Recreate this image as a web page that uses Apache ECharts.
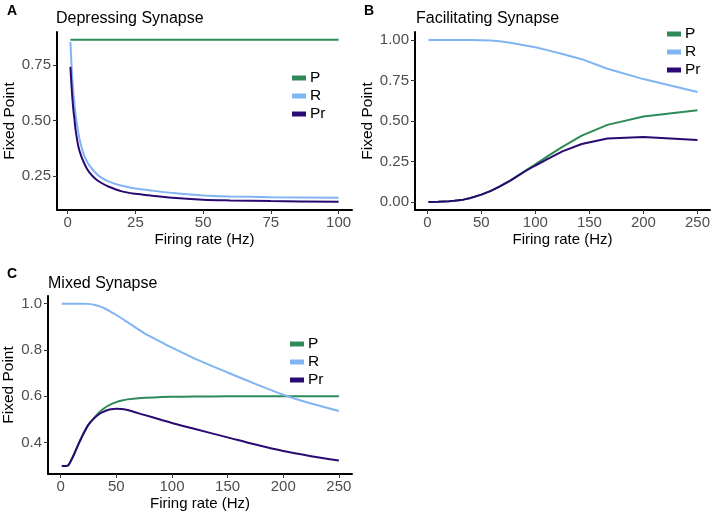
<!DOCTYPE html>
<html>
<head>
<meta charset="utf-8">
<script src="https://cdn.jsdelivr.net/npm/echarts@6/dist/echarts.min.js"></script>
<style>
  html, body { margin: 0; padding: 0; background: #fff; }
  #main { width: 714px; height: 513px; }
</style>
</head>
<body>
<div id="main"></div>
<script>
// A - depressing synapse
var aRate = [1, 1.5, 2, 2.5, 3, 4, 5, 6, 7, 8, 10, 12, 15, 20, 25, 30, 40, 50, 60, 75, 100];
var aP  = [0.864, 0.864, 0.864, 0.864, 0.864, 0.864, 0.864, 0.864, 0.864, 0.864, 0.864, 0.864, 0.864, 0.864, 0.864, 0.864, 0.864, 0.864, 0.864, 0.864, 0.864];
var aR  = [0.854, 0.73, 0.64, 0.575, 0.52, 0.44, 0.385, 0.345, 0.318, 0.298, 0.268, 0.246, 0.226, 0.206, 0.194, 0.186, 0.172, 0.162, 0.158, 0.155, 0.152];
var aPr = [0.742, 0.64, 0.56, 0.505, 0.45, 0.38, 0.34, 0.31, 0.285, 0.267, 0.24, 0.222, 0.203, 0.181, 0.170, 0.163, 0.151, 0.143, 0.140, 0.137, 0.134];

// B - facilitating synapse
var bRate = [1, 10, 20, 25, 33.3, 40, 50, 58.8, 66.7, 76.9, 90.9, 100, 111.1, 125, 142.9, 166.7, 200, 250];
var bP  = [0, 0.001, 0.004, 0.007, 0.014, 0.024, 0.045, 0.068, 0.094, 0.133, 0.193, 0.232, 0.281, 0.34, 0.41, 0.476, 0.528, 0.567];
var bR  = [1, 1, 1, 1, 1, 1, 0.999, 0.997, 0.993, 0.983, 0.966, 0.956, 0.938, 0.914, 0.882, 0.823, 0.759, 0.679];
var bPr = [0, 0.001, 0.004, 0.007, 0.014, 0.024, 0.045, 0.068, 0.094, 0.132, 0.191, 0.225, 0.265, 0.312, 0.358, 0.392, 0.401, 0.383];

// C - mixed synapse
var cRate = [1, 5, 7, 10, 12, 15, 18, 20, 25, 30, 35, 40, 45, 50, 55, 60, 75, 90, 100, 120, 150, 175, 200, 225, 250];
var cP  = [0.30, 0.30, 0.303, 0.33, 0.35, 0.383, 0.415, 0.435, 0.478, 0.507, 0.533, 0.552, 0.565, 0.575, 0.582, 0.587, 0.594, 0.597, 0.598, 0.599, 0.600, 0.600, 0.600, 0.600, 0.600];
var cR  = [1, 1, 1, 1, 1, 1, 1, 1, 0.999, 0.995, 0.988, 0.978, 0.965, 0.951, 0.936, 0.92, 0.873, 0.835, 0.81, 0.764, 0.703, 0.654, 0.607, 0.569, 0.537];
var cPr = [0.30, 0.30, 0.303, 0.33, 0.35, 0.383, 0.415, 0.435, 0.478, 0.505, 0.525, 0.537, 0.544, 0.547, 0.545, 0.541, 0.52, 0.499, 0.485, 0.46, 0.423, 0.392, 0.364, 0.342, 0.323];

var aXTicks = [0, 25, 50, 75, 100];
var aYTicks = [0.25, 0.5, 0.75];
var bXTicks = [0, 50, 100, 150, 200, 250];
var bYTicks = [0, 0.25, 0.5, 0.75, 1];
var cXTicks = [0, 50, 100, 150, 200, 250];
var cYTicks = [0.4, 0.6, 0.8, 1.0];

var colP = '#2e8b57', colR = '#80b4f2', colPr = '#2a0a72';
var font = 'Liberation Sans';

function pairs(xs, ys) {
    var out = [];
    for (var i = 0; i < xs.length; i++) out.push([xs[i], ys[i]]);
    return out;
}

function xAxisOf(idx, min, max, ticks) {
    return {
        type: 'value', gridIndex: idx, min: min, max: max,
        name: 'Firing rate (Hz)', nameLocation: 'middle', nameGap: 22,
        nameTextStyle: { fontFamily: font, fontSize: 15, color: '#000' },
        axisLine: { show: true, onZero: false, lineStyle: { color: '#000', width: 2 } },
        axisTick: { show: true, length: 4, customValues: ticks, lineStyle: { color: '#333' } },
        axisLabel: { customValues: ticks, margin: 5, fontFamily: font, fontSize: 15, color: '#4d4d4d' },
        splitLine: { show: false }
    };
}

function yAxisOf(idx, min, max, ticks, digits, gap) {
    return {
        type: 'value', gridIndex: idx, min: min, max: max,
        name: 'Fixed Point', nameLocation: 'middle', nameGap: gap, nameRotate: 90,
        nameTextStyle: { fontFamily: font, fontSize: 15.5, color: '#000' },
        axisLine: { show: true, onZero: false, lineStyle: { color: '#000', width: 2 } },
        axisTick: { show: true, length: 4, customValues: ticks, lineStyle: { color: '#333' } },
        axisLabel: {
            customValues: ticks, margin: 6, fontFamily: font, fontSize: 15, color: '#4d4d4d',
            formatter: function (v) { return v.toFixed(digits); }
        },
        splitLine: { show: false }
    };
}

function lineOf(name, idx, xs, ys, color, smooth) {
    return {
        name: name, type: 'line', xAxisIndex: idx, yAxisIndex: idx,
        data: pairs(xs, ys), showSymbol: false, symbol: 'none',
        smooth: smooth,
        lineStyle: { color: color, width: 2 }, itemStyle: { color: color },
        animation: false
    };
}

function legendOf(left, top) {
    return {
        data: ['P', 'R', 'Pr'], orient: 'vertical', left: left, top: top,
        padding: 0, itemGap: 2, itemWidth: 14, itemHeight: 5, icon: 'rect',
        itemStyle: { borderWidth: 0 },
        textStyle: { fontFamily: font, fontSize: 15.5, color: '#000', padding: [0, 0, 0, -1] },
        selectedMode: false
    };
}

var myChart = echarts.init(document.getElementById('main'));

var option = {
    backgroundColor: '#fff',
    animation: false,
    title: [
        { text: 'A', left: 7, top: 4, padding: 0, textStyle: { fontFamily: font, fontSize: 14, fontWeight: 'bold', color: '#000' } },
        { text: 'Depressing Synapse', left: 56, top: 11, padding: 0, textStyle: { fontFamily: font, fontSize: 16, fontWeight: 'normal', color: '#000' } },
        { text: 'B', left: 364, top: 4, padding: 0, textStyle: { fontFamily: font, fontSize: 14, fontWeight: 'bold', color: '#000' } },
        { text: 'Facilitating Synapse', left: 416, top: 11, padding: 0, textStyle: { fontFamily: font, fontSize: 16, fontWeight: 'normal', color: '#000' } },
        { text: 'C', left: 7, top: 267, padding: 0, textStyle: { fontFamily: font, fontSize: 14, fontWeight: 'bold', color: '#000' } },
        { text: 'Mixed Synapse', left: 48, top: 276, padding: 0, textStyle: { fontFamily: font, fontSize: 16, fontWeight: 'normal', color: '#000' } }
    ],
    legend: [legendOf(292, 70), legendOf(667, 26), legendOf(290, 336)],
    grid: [
        { left: 57, top: 32, width: 295, height: 178 },
        { left: 415, top: 32, width: 295, height: 178 },
        { left: 48, top: 296, width: 304, height: 178 }
    ],
    xAxis: [
        xAxisOf(0, -3.95, 104.95, aXTicks),
        xAxisOf(1, -11.4, 261.6, bXTicks),
        xAxisOf(2, -11.4, 261.8, cXTicks)
    ],
    yAxis: [
        yAxisOf(0, 0.097, 0.899, aYTicks, 2, 39),
        yAxisOf(1, -0.05, 1.05, bYTicks, 2, 38),
        yAxisOf(2, 0.265, 1.033, cYTicks, 1, 31)
    ],
    series: [
        lineOf('P', 0, aRate, aP, colP, 0.3),
        lineOf('R', 0, aRate, aR, colR, 0.3),
        lineOf('Pr', 0, aRate, aPr, colPr, 0.3),
        lineOf('P', 1, bRate, bP, colP, false),
        lineOf('R', 1, bRate, bR, colR, false),
        lineOf('Pr', 1, bRate, bPr, colPr, false),
        lineOf('P', 2, cRate, cP, colP, 0.3),
        lineOf('R', 2, cRate, cR, colR, 0.3),
        lineOf('Pr', 2, cRate, cPr, colPr, 0.3)
    ]
};

myChart.setOption(option);
window.onresize = myChart.resize;
</script>
</body>
</html>
